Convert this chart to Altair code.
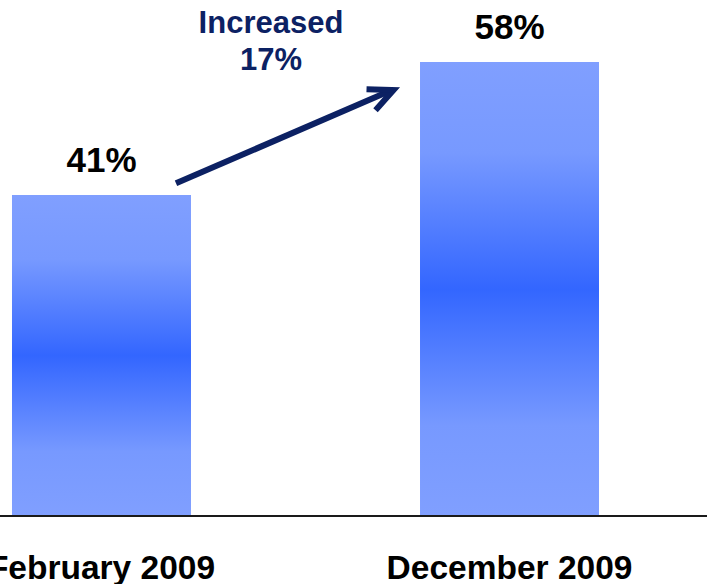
import altair as alt
import pandas as pd

# ---- data ----
categories = ["February 2009", "December 2009"]
values = [41, 58]
value_labels = ["41%", "58%"]

# arrow annotation (in data units)
arrow_start = ["February 2009"]
arrow_end = ["December 2009"]
arrow_y_start = [42.5]
arrow_y_end = [54.42]

annotation_text = ["Increased\n17%"]
annotation_cat = ["February 2009"]
annotation_y = [61.7]

FONT = "Liberation Sans"
NAVY = "#0C2163"

bars_df = pd.DataFrame({"cat": categories, "value": values, "label": value_labels})
arrow_df = pd.DataFrame({"start": arrow_start, "end": arrow_end,
                         "y1": arrow_y_start, "y2": arrow_y_end})
ann_df = pd.DataFrame({"cat": annotation_cat, "y": annotation_y, "text": annotation_text})

xscale = alt.Scale(domain=categories, paddingInner=0.5613, paddingOuter=0.0294)
yscale = alt.Scale(domain=[0, 65.92], nice=False, zero=True)

xaxis = alt.Axis(title=None, labelFont=FONT, labelFontSize=33.5, labelFontWeight="bold",
                 labelColor="black", ticks=False, domain=False, labelPadding=62,
                 labelBaseline="alphabetic", labelAngle=0, labelLimit=0,
                 labelOverlap=False, grid=False)

gradient = alt.Gradient(
    gradient="linear",
    stops=[
        alt.GradientStop(color="#809FFF", offset=0),
        alt.GradientStop(color="#7799FF", offset=0.2),
        alt.GradientStop(color="#3366FF", offset=0.5),
        alt.GradientStop(color="#7799FF", offset=0.8),
        alt.GradientStop(color="#809FFF", offset=1),
    ],
    x1=0, x2=0, y1=0, y2=1,
)

base = alt.Chart(bars_df)

bars = base.mark_bar(color=gradient).encode(
    x=alt.X("cat:N", scale=xscale, axis=xaxis),
    y=alt.Y("value:Q", scale=yscale, axis=None),
)

labels = base.mark_text(font=FONT, fontSize=35, fontWeight="bold", color="black",
                        baseline="alphabetic", dy=-23).encode(
    x=alt.X("cat:N", scale=xscale),
    y=alt.Y("value:Q", scale=yscale),
    text="label:N",
)

baseline = alt.Chart(bars_df).mark_rule(color="#1a1a1a", strokeWidth=2).encode(
    y=alt.Y("zero:Q", scale=yscale),
    x=alt.value(0),
    x2=alt.value(707),
).transform_calculate(zero="0")

arrow = alt.Chart(arrow_df).mark_rule(color=NAVY, strokeWidth=6, strokeCap="butt",
                                      xOffset=74.5, x2Offset=-117.5).encode(
    x=alt.X("start:N", scale=xscale),
    x2="end:N",
    y=alt.Y("y1:Q", scale=yscale),
    y2="y2:Q",
)

head = alt.Chart(arrow_df).mark_point(
    shape="M -0.906 -0.423 L 0 0 L -0.906 0.423",
    size=2916, filled=False, stroke=NAVY, strokeWidth=6, strokeJoin="miter",
    angle=336.8, xOffset=-116, opacity=1,
).encode(
    x=alt.X("end:N", scale=xscale),
    y=alt.Y("y2:Q", scale=yscale),
)

ann = alt.Chart(ann_df).mark_text(font=FONT, fontSize=31, fontWeight="bold", color=NAVY,
                                  baseline="alphabetic", align="center", lineBreak="\n",
                                  lineHeight=37, dx=169.5).encode(
    x=alt.X("cat:N", scale=xscale),
    y=alt.Y("y:Q", scale=yscale),
    text="text:N",
)

chart = alt.layer(bars, labels, baseline, arrow, head, ann).properties(
    width=611, height=516,
    autosize=alt.AutoSizeParams(type="none"),
    padding={"left": 0, "top": 0, "right": 96, "bottom": 68},
    background="white",
).configure_view(strokeWidth=0)

chart.save("out.html", embed_options={"renderer": "svg", "actions": False})
